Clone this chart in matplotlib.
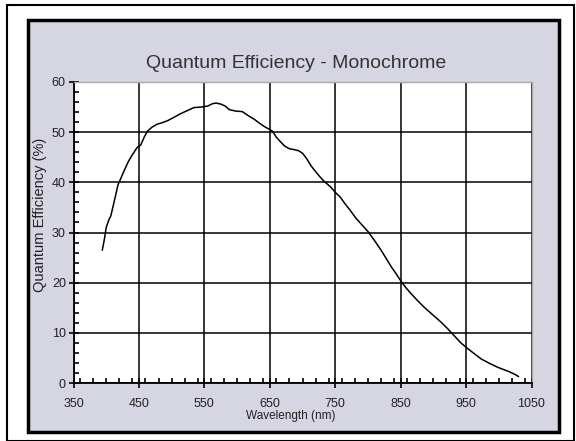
import matplotlib
matplotlib.use('Agg')
import matplotlib.pyplot as plt
from matplotlib.patches import Rectangle
from matplotlib.ticker import MultipleLocator

# 数据
wavelength = [394, 397, 400, 404, 407, 411, 414, 418, 423, 428, 434, 440, 447, 453,
              458, 463, 470, 478, 486, 494, 504, 514, 524, 534, 545, 555, 563, 568,
              575, 582, 588, 598, 608, 617, 626, 634, 642, 649, 654, 660, 667, 673,
              680, 688, 694, 700, 706, 713, 719, 726, 733, 742, 751, 758, 764, 773,
              782, 791, 800, 810, 820, 828, 836, 843, 851, 858, 866, 876, 886, 899,
              912, 922, 932, 942, 953, 963, 973, 986, 999, 1015, 1025, 1030]
qe = [26.5, 28.5, 31.0, 32.5, 33.3, 35.5, 37.2, 39.5, 41.0, 42.5, 44.2, 45.5, 46.9, 47.5,
      49.0, 50.2, 51.0, 51.6, 51.9, 52.3, 53.0, 53.7, 54.3, 54.9, 55.0, 55.2, 55.7, 55.8,
      55.6, 55.2, 54.5, 54.2, 54.1, 53.3, 52.6, 51.8, 51.1, 50.6, 50.2, 49.0, 48.0, 47.2,
      46.7, 46.5, 46.3, 45.8, 44.8, 43.3, 42.3, 41.2, 40.2, 39.2, 37.9, 37.0, 35.9, 34.4,
      32.8, 31.5, 30.2, 28.4, 26.5, 24.8, 23.1, 21.8, 20.2, 19.0, 17.8, 16.4, 15.1, 13.6,
      12.1, 10.8, 9.4, 8.0, 6.8, 5.8, 4.8, 3.9, 3.1, 2.3, 1.7, 1.3]

x_ticks = [350, 450, 550, 650, 750, 850, 950, 1050]
y_ticks = [0, 10, 20, 30, 40, 50, 60]

title = 'Quantum Efficiency - Monochrome'
font = ['Liberation Sans', 'DejaVu Sans']

W, H = 576, 441
fig = plt.figure(figsize=(W / 100, H / 100), dpi=100)
fig.patch.set_facecolor('white')

# 外框
fig.patches.append(Rectangle((7 / W, 0), 567 / W, 1 - 5 / H, transform=fig.transFigure,
                             fill=False, edgecolor='black', linewidth=1.5, zorder=-2))
# 灰色面板
fig.patches.append(Rectangle((28 / W, (H - 432) / H), 531 / W, 412 / H,
                             transform=fig.transFigure, facecolor='#d6d6e2',
                             edgecolor='black', linewidth=2.5, zorder=-1))

left, right, top, bottom = 73.5, 531.5, 82, 383
ax = fig.add_axes([left / W, (H - bottom) / H, (right - left) / W, (bottom - top) / H])
ax.set_zorder(2)
ax.set_facecolor('white')

ax.plot(wavelength, qe, color='black', linewidth=1.1, zorder=3)

ax.set_xlim(350, 1050)
ax.set_ylim(0, 60)
ax.set_xticks(x_ticks)
ax.set_yticks(y_ticks)
ax.xaxis.set_minor_locator(MultipleLocator(20))
ax.yaxis.set_minor_locator(MultipleLocator(2))
ax.grid(True, which='major', color='black', linewidth=1.1)

for s in ['top', 'right']:
    ax.spines[s].set_color('#aaaaaa')
    ax.spines[s].set_linewidth(1.0)
for s in ['left', 'bottom']:
    ax.spines[s].set_color('black')
    ax.spines[s].set_linewidth(1.3)

ax.tick_params(which='major', direction='inout', length=7, width=1.2, colors='black')
ax.tick_params(which='minor', direction='in', length=3.5, width=1.2, colors='black')
ax.tick_params(axis='x', which='major', pad=7)
ax.tick_params(axis='y', which='major', pad=2)
for lab in ax.get_xticklabels() + ax.get_yticklabels():
    lab.set_family(font)
    lab.set_fontsize(9)
    lab.set_color('#222222')

ax.set_xlabel('Wavelength (nm)', fontsize=8.5, family=font, color='#222222')
ax.xaxis.set_label_coords(0.475, -0.09)
ax.set_ylabel('Quantum Efficiency (%)', fontsize=10.5, family=font, color='#222222')
ax.yaxis.set_label_coords(-0.058, 0.56)

fig.text(296 / W, 1 - 63 / H, title, ha='center', va='center', fontsize=14,
         family=font, color='#333333')

plt.savefig('out.png', dpi=100)
plt.close()
